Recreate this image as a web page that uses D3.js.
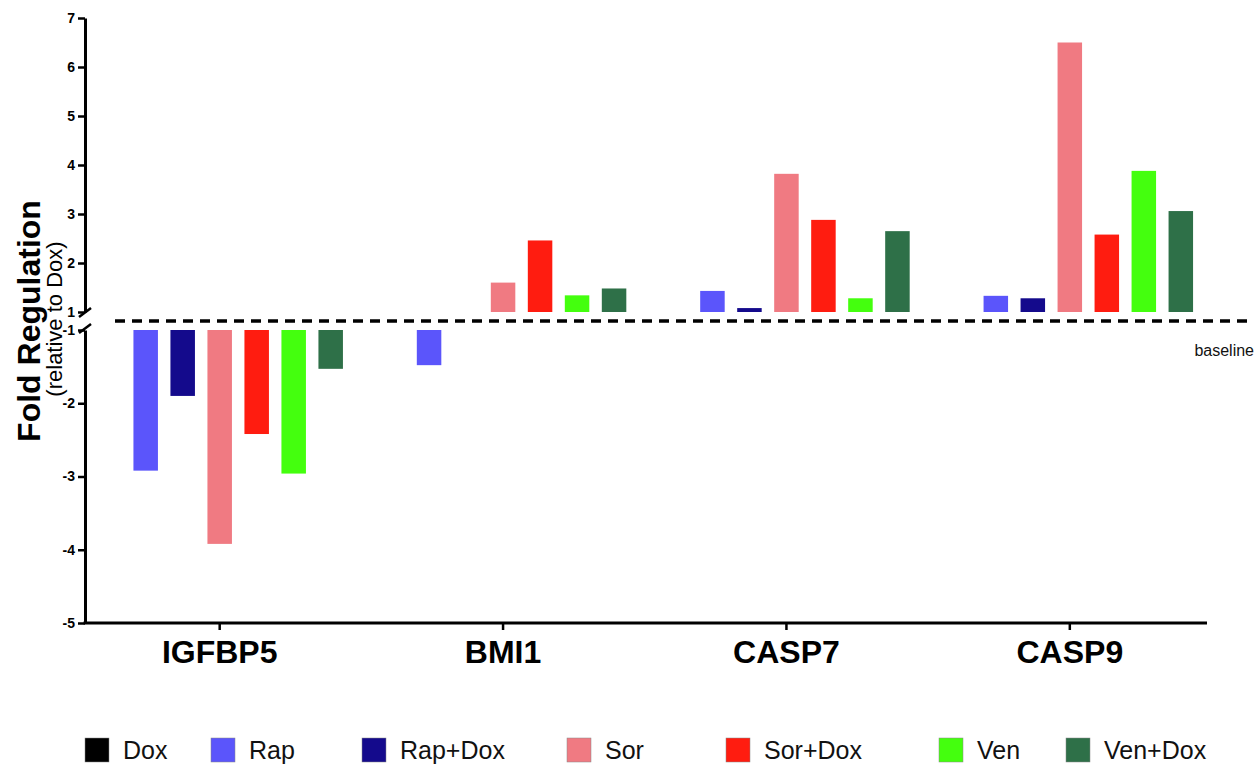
<!DOCTYPE html>
<html>
<head>
<meta charset="utf-8">
<script src="https://cdn.jsdelivr.net/npm/d3@7"></script>
<style>
  html, body { margin: 0; padding: 0; background: #fff; }
  svg { display: block; font-family: Arial, "Liberation Sans", sans-serif; }
</style>
</head>
<body>
<svg id="chart" width="1254" height="765"></svg>
<script>
// Genes on the x axis
const genes = ["IGFBP5", "BMI1", "CASP7", "CASP9"];
// Treatments (one bar per gene)
const treatments = ["Dox", "Rap", "Rap+Dox", "Sor", "Sor+Dox", "Ven", "Ven+Dox"];
const colors = ["#000000", "#5b55fb", "#140a8c", "#f07a82", "#ff1c10", "#44ff0e", "#2e7048"];

// Fold regulation relative to Dox (Dox itself is the reference, so no bar)
const doxVals    = [null, null, null, null];
const rapVals    = [-2.92, -1.48, 1.43, 1.33];
const rapDoxVals = [-1.90, null, 1.08, 1.28];
const sorVals    = [-3.92, 1.60, 3.82, 6.50];
const sorDoxVals = [-2.42, 2.46, 2.88, 2.58];
const venVals    = [-2.96, 1.34, 1.28, 3.88];
const venDoxVals = [-1.53, 1.48, 2.65, 3.06];

// Tick values for the two segments of the broken y axis
const upperTicks = [1, 2, 3, 4, 5, 6, 7];
const lowerTicks = [-1, -2, -3, -4, -5];

const seriesVals = [doxVals, rapVals, rapDoxVals, sorVals, sorDoxVals, venVals, venDoxVals];
const rows = [];
genes.forEach((g, gi) => {
  treatments.forEach((t, ti) => {
    const v = seriesVals[ti][gi];
    if (v !== null) rows.push({ gene: g, treatment: t, value: v, color: colors[ti] });
  });
});

const svg = d3.select("#chart");
const axisX = 85;       // y axis position
const axisBottom = 623; // x axis position
const axisRight = 1207;

// Scales: upper segment 1..7, lower segment -5..-1
const yUp = d3.scaleLinear().domain([1, 7]).range([312, 18]);
const yLow = d3.scaleLinear().domain([-5, -1]).range([axisBottom, 330]);

const x0 = d3.scaleBand().domain(genes).range([78, 1211.5]);
const p = (37 - 24.5) / 37;
const x1 = d3.scaleBand().domain(treatments)
  .range([-3.5 * 37, 3.5 * 37]).paddingInner(p).paddingOuter(p / 2);

// Bars
svg.append("g").selectAll("rect").data(rows).join("rect")
  .attr("x", d => x0(d.gene) + x0.bandwidth() / 2 + x1(d.treatment))
  .attr("width", x1.bandwidth())
  .attr("y", d => d.value > 0 ? yUp(d.value) : yLow(-1))
  .attr("height", d => d.value > 0 ? yUp(1) - yUp(d.value) : yLow(d.value) - yLow(-1))
  .attr("fill", d => d.color);

// Axis styling helper
function styleAxis(g) {
  g.selectAll(".domain").attr("stroke", "#000").attr("stroke-width", 3);
  g.selectAll(".tick line").attr("stroke", "#000").attr("stroke-width", 2.5);
  g.selectAll(".tick text")
    .attr("font-family", "Arial, 'Liberation Sans', sans-serif")
    .attr("font-weight", "bold").attr("font-size", 14).attr("fill", "#000");
}
const plainInt = d => String(d);

// Upper y segment
svg.append("g").attr("transform", `translate(${axisX},0)`)
  .call(d3.axisLeft(yUp).tickValues(upperTicks).tickSize(7).tickSizeOuter(0).tickPadding(3)
    .tickFormat(plainInt))
  .call(styleAxis);
// Lower y segment
svg.append("g").attr("transform", `translate(${axisX},0)`)
  .call(d3.axisLeft(yLow).tickValues(lowerTicks).tickSize(7).tickSizeOuter(0).tickPadding(3)
    .tickFormat(plainInt))
  .call(styleAxis);

// Axis break marks
const brk = svg.append("g").attr("stroke", "#000").attr("stroke-width", 2.5).attr("fill", "none");
brk.append("line").attr("x1", axisX - 6).attr("y1", yUp(1) + 5).attr("x2", axisX + 6).attr("y2", yUp(1) - 4);
brk.append("line").attr("x1", axisX - 6).attr("y1", yLow(-1) + 3).attr("x2", axisX + 6).attr("y2", yLow(-1) - 6);

// X axis
const xAxisG = svg.append("g").attr("transform", `translate(0,${axisBottom})`)
  .call(d3.axisBottom(x0).tickSize(7).tickSizeOuter(0).tickPadding(10));
xAxisG.select(".domain").remove();
xAxisG.selectAll(".tick line").attr("stroke", "#000").attr("stroke-width", 2.5);
xAxisG.selectAll(".tick text")
  .attr("font-family", "Arial, 'Liberation Sans', sans-serif")
  .attr("font-weight", "bold").attr("font-size", 32).attr("fill", "#000")
  .attr("dy", "0.71em");
svg.append("line")
  .attr("x1", axisX - 1.5).attr("x2", axisRight)
  .attr("y1", axisBottom).attr("y2", axisBottom)
  .attr("stroke", "#000").attr("stroke-width", 3);

// Dashed baseline between the segments
const baseY = (yUp(1) + yLow(-1)) / 2;
svg.append("line")
  .attr("x1", 115).attr("x2", 1254).attr("y1", baseY).attr("y2", baseY)
  .attr("stroke", "#000").attr("stroke-width", 3.5).attr("stroke-dasharray", "10,7");
svg.append("text").attr("x", 1254).attr("y", baseY + 35)
  .attr("text-anchor", "end").attr("font-size", 16).attr("fill", "#111").text("baseline");

// Y axis titles
svg.append("text")
  .attr("transform", `translate(40,${baseY}) rotate(-90)`)
  .attr("text-anchor", "middle").attr("font-weight", "bold").attr("font-size", 32)
  .text("Fold Regulation");
svg.append("text")
  .attr("transform", `translate(62,${baseY - 2}) rotate(-90)`)
  .attr("text-anchor", "middle").attr("font-size", 22)
  .text("(relative to Dox)");

// Legend
const legendX = [85, 211, 362, 567, 726, 939, 1066];
const lg = svg.append("g").selectAll("g").data(treatments).join("g")
  .attr("transform", (d, i) => `translate(${legendX[i]},738)`);
lg.append("rect").attr("width", 24).attr("height", 24)
  .attr("fill", (d, i) => colors[i]).attr("stroke", "#888").attr("stroke-width", 0.5);
lg.append("text").attr("x", 38).attr("y", 12).attr("dy", "0.36em")
  .attr("font-size", 25).attr("fill", "#111").text(d => d);
</script>
</body>
</html>
